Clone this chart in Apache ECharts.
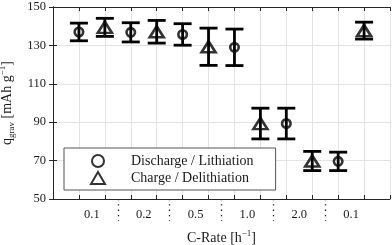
<!DOCTYPE html>
<html><head><meta charset="utf-8">
<script src="https://cdn.jsdelivr.net/npm/echarts@6/dist/echarts.min.js"></script>
<style>html,body{margin:0;padding:0;background:#fff}#c{width:392px;height:245px}</style>
</head><body><div id="c"></div>
<script>
// C-rate group labels (each group holds two slots on the x scale)
const rateLabels = ['0.1', '0.2', '0.5', '1.0', '2.0', '0.1'];
// Discharge / Lithiation (circles) at odd slots 1,3,...,11
const dischargeMean = [137.0, 136.8, 135.7, 129.0, 89.3, 69.6];
const dischargeErr  = [4.6, 5.0, 5.6, 9.5, 8.0, 4.8];
// Charge / Delithiation (triangles) at even slots 2,4,...,12
const chargeMean = [139.4, 137.1, 129.3, 89.3, 69.8, 137.7];
const chargeErr  = [4.7, 5.9, 9.7, 8.0, 5.0, 4.4];
const yTicks = [50, 70, 90, 110, 130, 150];

const FONT = '"Liberation Serif", "DejaVu Serif", serif';
const TXT = '#1a1a1a';

const dPts = dischargeMean.map((v, i) => [2 * i + 1, v]);
const cPts = chargeMean.map((v, i) => [2 * i + 2, v]);
const dErr = dischargeMean.map((v, i) => [2 * i + 1, v - dischargeErr[i], v + dischargeErr[i]]);
const cErr = chargeMean.map((v, i) => [2 * i + 2, v - chargeErr[i], v + chargeErr[i]]);
const labelPos = rateLabels.map((_, i) => 2 * i + 1.5);
const sepPos = rateLabels.slice(1).map((_, i) => 2 * i + 2.5);

function errRender(params, api) {
  const x = api.value(0), lo = api.value(1), hi = api.value(2);
  const a = api.coord([x, lo]), b = api.coord([x, hi]);
  const hw = 9;
  const st = { stroke: '#000', lineWidth: 2.8, fill: null };
  return { type: 'group', children: [
    { type: 'line', shape: { x1: a[0], y1: a[1], x2: b[0], y2: b[1] }, style: st },
    { type: 'line', shape: { x1: a[0] - hw, y1: a[1], x2: a[0] + hw, y2: a[1] }, style: st },
    { type: 'line', shape: { x1: b[0] - hw, y1: b[1], x2: b[0] + hw, y2: b[1] }, style: st }
  ]};
}

const chart = echarts.init(document.getElementById('c'), null, { renderer: 'canvas' });
const gridLine = { show: true, lineStyle: { color: '#e3e3e3', width: 1 } };
const axLine = { show: true, lineStyle: { color: '#262626', width: 1 } };
const inTick = { show: true, inside: true, length: 4, lineStyle: { color: '#262626', width: 1 } };

chart.setOption({
  animation: false,
  backgroundColor: '#fff',
  grid: { left: 53, right: 2, top: 7, bottom: 46, containLabel: false, outerBoundsMode: 'none' },
  legend: {
    orient: 'vertical', left: 64, top: 148,
    padding: [6, 22, 5, 26], itemGap: 3, itemWidth: 14, itemHeight: 12,
    backgroundColor: '#fff', borderColor: '#555', borderWidth: 1,
    textStyle: { fontFamily: FONT, fontSize: 14, color: TXT, padding: [0, 0, 0, 21] },
    data: ['Discharge / Lithiation', 'Charge / Delithiation']
  },
  xAxis: [
    { type: 'value', min: 0, max: 13, interval: 1, position: 'bottom',
      axisLine: axLine, axisTick: inTick, axisLabel: { show: false }, splitLine: gridLine },
    { type: 'value', min: 0, max: 13, interval: 1, position: 'top',
      axisLine: axLine, axisTick: inTick, axisLabel: { show: false }, splitLine: { show: false } },
    { type: 'value', min: 0, max: 13, position: 'bottom',
      axisLine: { show: false }, splitLine: { show: false },
      axisTick: { show: true, inside: false, length: 22, customValues: sepPos,
        lineStyle: { color: '#222', width: 1.3, type: [1.3, 4] } },
      axisLabel: { show: true, customValues: labelPos, margin: 9,
        fontFamily: FONT, fontSize: 12.5, color: TXT,
        formatter: v => rateLabels[Math.round((v - 1.5) / 2)] },
      name: '{n|C-Rate [h}{sup|−1}{n|]}', nameLocation: 'middle', nameGap: 30,
      nameTextStyle: { fontFamily: FONT, color: TXT, rich: {
        n: { fontFamily: FONT, fontSize: 14, color: TXT, lineHeight: 18 },
        sup: { fontFamily: FONT, fontSize: 9, color: TXT, lineHeight: 10, verticalAlign: 'top' } } } }
  ],
  yAxis: [
    { type: 'value', min: 50, max: 150, interval: 20, position: 'left',
      axisLine: axLine, axisTick: inTick, splitLine: gridLine,
      axisLabel: { margin: 7, fontFamily: FONT, fontSize: 12.5, color: TXT },
      name: '{n|q}{sub|grav}{n| [mAh g}{sup|−1}{n|]}', nameLocation: 'middle', nameGap: 34, nameRotate: 90,
      nameTextStyle: { fontFamily: FONT, color: TXT, rich: {
        n: { fontFamily: FONT, fontSize: 14, color: TXT, lineHeight: 18 },
        sub: { fontFamily: FONT, fontSize: 9, color: TXT, lineHeight: 10, verticalAlign: 'bottom' },
        sup: { fontFamily: FONT, fontSize: 9, color: TXT, lineHeight: 10, verticalAlign: 'top' } } } },
    { type: 'value', min: 50, max: 150, interval: 20, position: 'right',
      axisLine: axLine, axisTick: inTick, axisLabel: { show: false }, splitLine: { show: false } }
  ],
  series: [
    { type: 'custom', name: 'errD', xAxisIndex: 0, yAxisIndex: 0, renderItem: errRender,
      data: dErr, encode: { x: 0, y: [1, 2] }, z: 2, silent: true },
    { type: 'custom', name: 'errC', xAxisIndex: 0, yAxisIndex: 0, renderItem: errRender,
      data: cErr, encode: { x: 0, y: [1, 2] }, z: 2, silent: true },
    { type: 'scatter', name: 'Discharge / Lithiation', xAxisIndex: 0, yAxisIndex: 0,
      symbol: 'circle', symbolSize: 8.5, data: dPts, z: 3,
      itemStyle: { color: 'rgba(0,0,0,0)', borderColor: '#000', borderWidth: 2.6 } },
    { type: 'scatter', name: 'Charge / Delithiation', xAxisIndex: 0, yAxisIndex: 0,
      symbol: 'triangle', symbolSize: [14, 11], data: cPts, z: 3,
      itemStyle: { color: 'rgba(0,0,0,0)', borderColor: '#000', borderWidth: 2.6 } }
  ]
});
</script></body></html>
